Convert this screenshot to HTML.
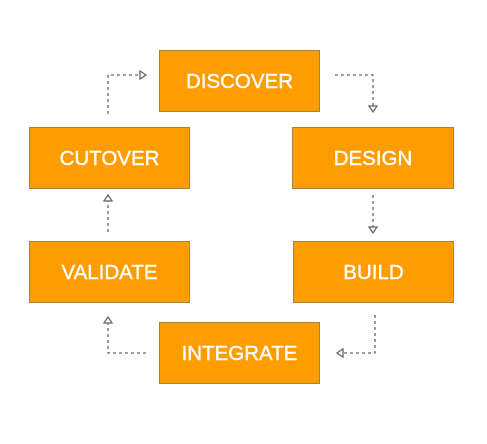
<!DOCTYPE html>
<html><head><style>
body{margin:0;background:#fff;width:487px;height:444px;overflow:hidden;position:relative;font-family:"Liberation Sans",sans-serif}
.b{position:absolute;background:#ff9c00;border:1px solid #a88040;box-sizing:border-box;color:#fff;font-size:20.5px;-webkit-text-stroke:0.4px #fff;display:flex;align-items:center;justify-content:center;padding-top:1px}
svg{position:absolute;left:0;top:0}
</style></head><body>
<div class="b" style="left:159px;top:50px;width:161px;height:62px">DISCOVER</div>
<div class="b" style="left:29px;top:127px;width:161px;height:62px">CUTOVER</div>
<div class="b" style="left:292px;top:127px;width:162px;height:62px">DESIGN</div>
<div class="b" style="left:29px;top:241px;width:161px;height:62px">VALIDATE</div>
<div class="b" style="left:293px;top:241px;width:161px;height:62px">BUILD</div>
<div class="b" style="left:159px;top:322px;width:161px;height:62px">INTEGRATE</div>
<svg width="487" height="444" fill="none" stroke="#666" stroke-width="1.3">
<g stroke-dasharray="3,3">
<path d="M108 114V75H140"/>
<path d="M335 75H373V106"/>
<path d="M373 195V227"/>
<path d="M375 315V353H343"/>
<path d="M146 353H108V323"/>
<path d="M108 232V201"/>
</g>
<g fill="#fff" stroke="#666">
<path d="M140 71L146 75L140 79Z"/>
<path d="M369 106L373 112L377 106Z"/>
<path d="M369 227L373 233L377 227Z"/>
<path d="M343 349L337 353L343 357Z"/>
<path d="M104 323L108 317L112 323Z"/>
<path d="M104 201L108 195L112 201Z"/>
</g>
</svg>
</body></html>
